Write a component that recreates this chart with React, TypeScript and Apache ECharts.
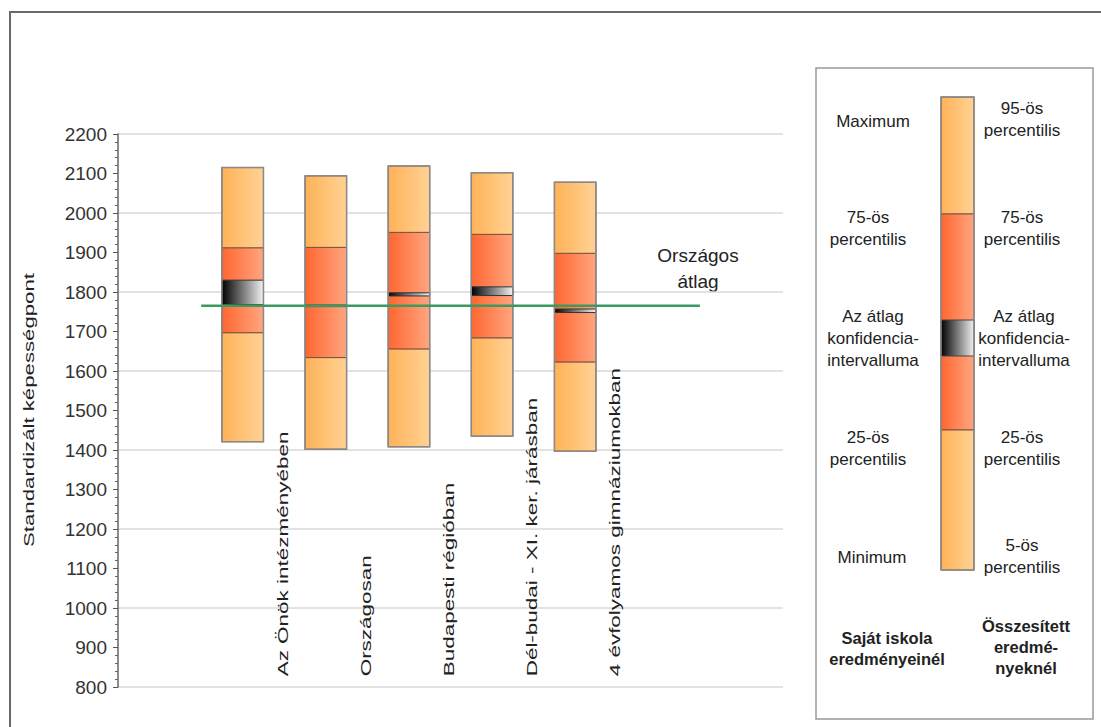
import React, { useEffect, useRef } from "react";
import * as echarts from "echarts";

// ---- data ----
const categories = [
  "Az Önök intézményében",
  "Országosan",
  "Budapesti régióban",
  "Dél-budai - XI. ker. járásban",
  "4 évfolyamos gimnáziumokban",
];
const p5 = [1421, 1402, 1408, 1435, 1397];
const p25 = [1697, 1634, 1656, 1684, 1623];
const ciLow = [1768, 1763, 1790, 1791, 1748];
const ciHigh = [1830, 1767, 1798, 1813, 1757];
const p75 = [1912, 1913, 1951, 1946, 1898];
const p95 = [2115, 2094, 2119, 2102, 2078];
const nationalMean = 1765;
const yMin = 800;
const yMax = 2200;
const yTitle = "Standardizált képességpont";
const meanLabel = "Országos\nátlag";

const FONT = "'Liberation Sans', Arial, sans-serif";

const grad = (a: string, b: string) =>
  new echarts.graphic.LinearGradient(0, 0, 1, 0, [
    { offset: 0, color: a },
    { offset: 1, color: b },
  ]);
const LIGHT = () => grad("#FFB257", "#FFD295");
const DARK = () => grad("#FF6630", "#FFA680");
const CI = () => grad("#000000", "#f2f2f2");
const SEG_STROKE = "#7a5440";

export default function App() {
  const ref = useRef<HTMLDivElement>(null);
  useEffect(() => {
    const chart = echarts.init(ref.current!, null, { renderer: "svg" });

    const barData = categories.map((_, i) => [
      i + 1.5,
      p5[i],
      p25[i],
      ciLow[i],
      ciHigh[i],
      p75[i],
      p95[i],
    ]);
    const labelData = categories.map((_, i) => [i + 1.98, 827]);

    const legendText = (x: number, y: number, text: string, bold = false) => ({
      type: "text",
      x,
      y,
      z: 20,
      style: {
        text,
        fontSize: bold ? 16.5 : 17,
        fontWeight: bold ? "bold" : "normal",
        lineHeight: bold ? 21 : 22,
        fontFamily: FONT,
        fill: "#222",
        align: "center",
        verticalAlign: "middle",
      },
    });

    const option: any = {
      animation: false,
      grid: { left: 118, right: 318, top: 134, bottom: 40 },
      xAxis: { type: "value", min: 0, max: 8, show: false },
      yAxis: [
        {
          type: "value",
          min: yMin,
          max: yMax,
          interval: 100,
          axisLine: { show: true, lineStyle: { color: "#666", width: 1.5 } },
          axisTick: { show: true, length: 5, lineStyle: { color: "#555" } },
          minorTick: { show: true, splitNumber: 5, length: 3, lineStyle: { color: "#666" } },
          splitLine: { show: false },
          axisLabel: {
            fontSize: 19,
            color: "#333",
            fontFamily: FONT,
            margin: 11,
            formatter: (v: number) => String(v),
          },
        },
        {
          type: "value",
          min: yMin,
          max: yMax,
          interval: 200,
          position: "left",
          axisLine: { show: false },
          axisTick: { show: false },
          axisLabel: { show: false },
          splitLine: { show: true, lineStyle: { color: "#d8d8d8", width: 1.5 } },
        },
      ],
      graphic: [
        {
          type: "rect",
          z: 0,
          shape: { x: 10, y: 12, width: 1110, height: 740 },
          style: { fill: "none", stroke: "#6a6a6a", lineWidth: 2 },
        },
        {
          type: "text",
          x: 29,
          y: 410,
          rotation: Math.PI / 2,
          scaleX: 1.48,
          style: {
            text: yTitle,
            fontSize: 15,
            fontFamily: FONT,
            fill: "#222",
            align: "center",
            verticalAlign: "middle",
          },
        },
        {
          type: "text",
          x: 698,
          y: 268,
          style: {
            text: meanLabel,
            fontSize: 19,
            lineHeight: 26,
            fontFamily: FONT,
            fill: "#222",
            align: "center",
            verticalAlign: "middle",
          },
        },
        // legend box
        {
          type: "rect",
          z: 5,
          shape: { x: 816, y: 68, width: 277, height: 651 },
          style: { fill: "#fff", stroke: "#999", lineWidth: 1.5 },
        },
        {
          type: "rect",
          z: 10,
          shape: { x: 941, y: 97, width: 33, height: 117 },
          style: { fill: LIGHT(), stroke: SEG_STROKE, lineWidth: 1 },
        },
        {
          type: "rect",
          z: 10,
          shape: { x: 941, y: 214, width: 33, height: 216 },
          style: { fill: DARK(), stroke: SEG_STROKE, lineWidth: 1 },
        },
        {
          type: "rect",
          z: 11,
          shape: { x: 941, y: 320, width: 33, height: 36 },
          style: { fill: CI(), stroke: "#444", lineWidth: 1 },
        },
        {
          type: "rect",
          z: 10,
          shape: { x: 941, y: 430, width: 33, height: 140 },
          style: { fill: LIGHT(), stroke: SEG_STROKE, lineWidth: 1 },
        },
        {
          type: "rect",
          z: 12,
          shape: { x: 941, y: 97, width: 33, height: 473 },
          style: { fill: "none", stroke: "#8a8a8a", lineWidth: 1.5 },
        },
        legendText(873, 121, "Maximum"),
        legendText(868, 228, "75-ös\npercentilis"),
        legendText(873, 338, "Az átlag\nkonfidencia-\nintervalluma"),
        legendText(868, 448, "25-ös\npercentilis"),
        legendText(872, 557, "Minimum"),
        legendText(1022, 119, "95-ös\npercentilis"),
        legendText(1022, 228, "75-ös\npercentilis"),
        legendText(1024, 338, "Az átlag\nkonfidencia-\nintervalluma"),
        legendText(1022, 448, "25-ös\npercentilis"),
        legendText(1022, 556, "5-ös\npercentilis"),
        legendText(887, 648, "Saját iskola\neredményeinél", true),
        legendText(1026, 647, "Összesített\neredmé-\nnyeknél", true),
      ],
      series: [
        {
          type: "custom",
          z: 2,
          data: barData,
          encode: { x: 0, y: [1, 6] },
          renderItem: (params: any, api: any) => {
            const x = api.value(0);
            const v5 = api.value(1);
            const v25 = api.value(2);
            const vcl = api.value(3);
            const vch = api.value(4);
            const v75 = api.value(5);
            const v95 = api.value(6);
            const w = api.size([0.5, 0])[0];
            const cx = api.coord([x, v5])[0];
            const left = cx - w / 2;
            const seg = (lo: number, hi: number, fill: any, stroke: string) => {
              const yTop = api.coord([x, hi])[1];
              const yBot = api.coord([x, lo])[1];
              return {
                type: "rect",
                shape: { x: left, y: yTop, width: w, height: yBot - yTop },
                style: { fill, stroke, lineWidth: 1 },
              };
            };
            const top = api.coord([x, v95])[1];
            const bot = api.coord([x, v5])[1];
            return {
              type: "group",
              children: [
                seg(v5, v25, LIGHT(), SEG_STROKE),
                seg(v25, v75, DARK(), SEG_STROKE),
                seg(v75, v95, LIGHT(), SEG_STROKE),
                seg(vcl, vch, CI(), "#333"),
                {
                  type: "rect",
                  shape: { x: left, y: top, width: w, height: bot - top },
                  style: { fill: "none", stroke: "#8a8a8a", lineWidth: 1.5 },
                },
              ],
            };
          },
        },
        {
          type: "line",
          z: 5,
          data: [
            [1, nationalMean],
            [7, nationalMean],
          ],
          symbol: "none",
          lineStyle: { color: "#3a9a60", width: 2.5 },
        },
        {
          type: "custom",
          z: 6,
          data: labelData,
          encode: { x: 0, y: 1 },
          renderItem: (params: any, api: any) => {
            const pt = api.coord([api.value(0), api.value(1)]);
            return {
              type: "text",
              x: pt[0],
              y: pt[1],
              rotation: Math.PI / 2,
              scaleX: 1.45,
              style: {
                text: categories[params.dataIndex],
                fontSize: 15.5,
                fontFamily: FONT,
                fill: "#222",
                align: "left",
                verticalAlign: "middle",
              },
            };
          },
        },
      ],
    };
    chart.setOption(option);
    return () => chart.dispose();
  }, []);

  return (
    <div
      ref={ref}
      style={{ position: "fixed", left: 0, top: 0, width: 1101, height: 727, background: "#fff" }}
    />
  );
}
